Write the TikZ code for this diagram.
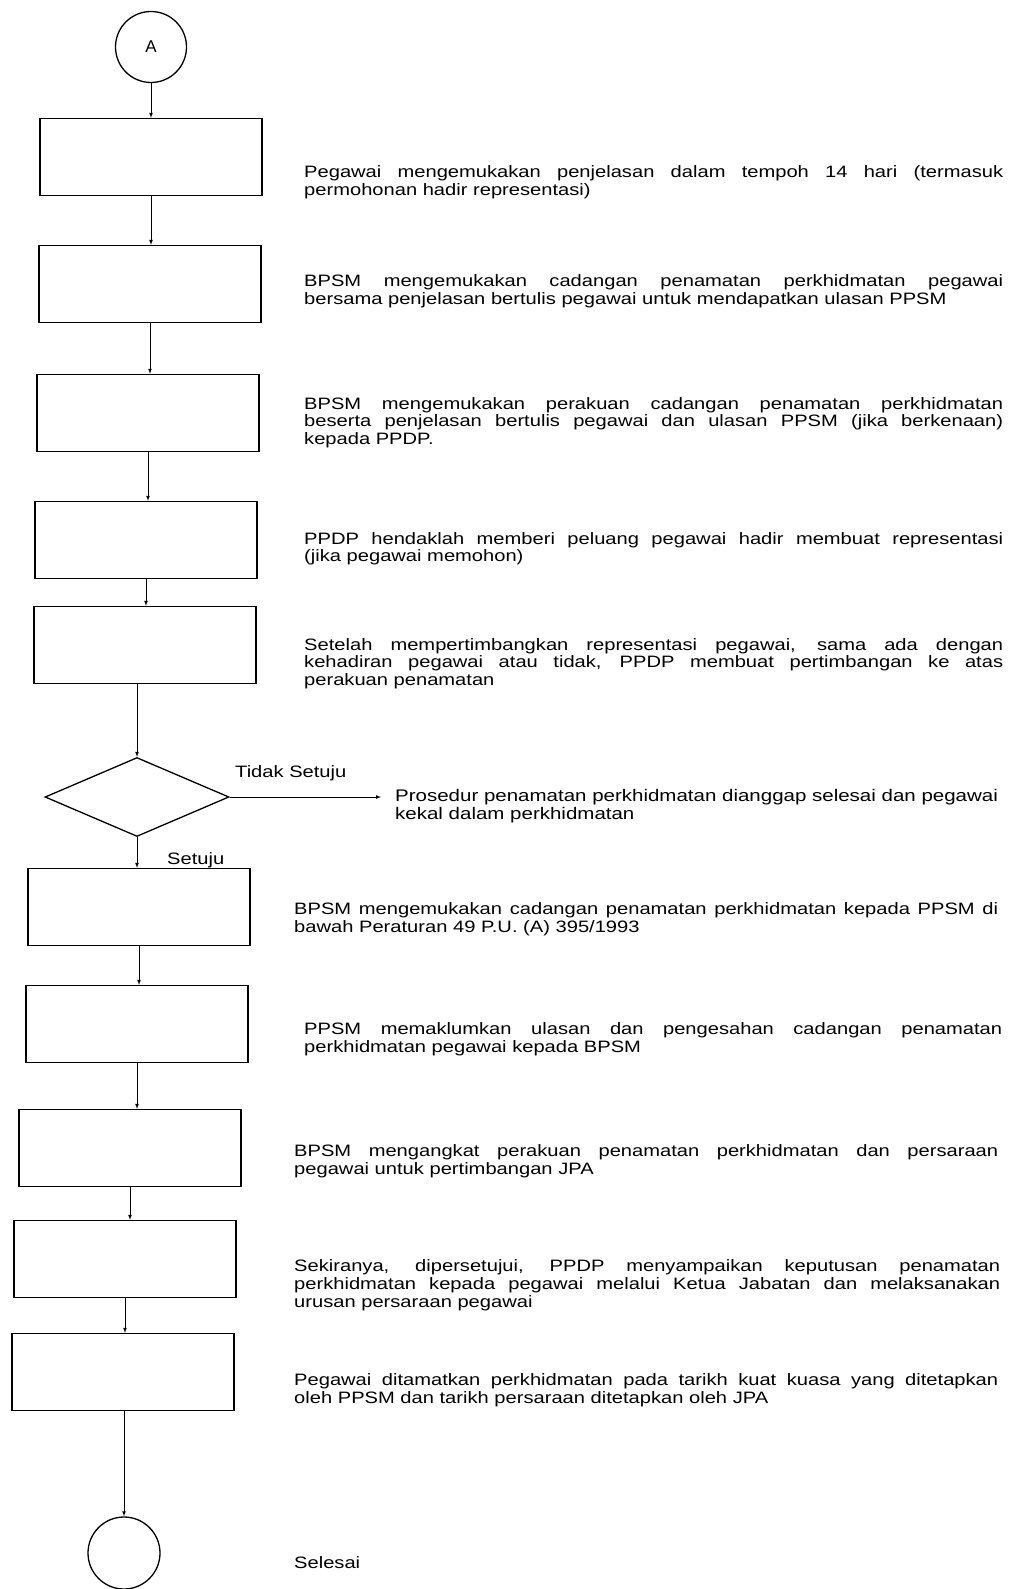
\documentclass[tikz,border=0pt]{standalone}
\usepackage{fontspec}
\setmainfont{Liberation Sans}
\newfontfamily\widefont[FakeStretch=1.22]{Liberation Sans}
\usetikzlibrary{shapes.geometric}
\tolerance=10000
\hbadness=10000
\tikzset{my arrow/.style={
  -latex,
  line width=0.7pt
  }
}
\tikzset{stepbox/.style={
  draw,
  line width=1.3pt,
  minimum width=222pt,
  minimum height=77pt,
  inner sep=0pt
  }
}
\tikzset{upper text/.style={
  anchor=base west,
  inner sep=0pt,
  text width=699pt,
  align=justify,
  font=\widefont\fontsize{16.5}{17.5}\selectfont
  }
}
\tikzset{lower text/.style={
  anchor=base west,
  inner sep=0pt,
  text width=706pt,
  align=justify,
  font=\widefont\fontsize{16.5}{18}\selectfont
  }
}

\begin{document}
\begin{tikzpicture}[x=1pt,y=-1pt]
    \useasboundingbox (0,0) rectangle (1018,1589);

    \node[draw,circle,line width=1.3pt,minimum size=71pt,inner sep=0pt,font=\fontsize{17}{18}\selectfont] (start) at (151,47) {A};

    \foreach \x/\y [count=\n] in {151/157,150/284,148/413,146/540,145/645,139/907,137/1024,130/1148,125/1259,123/1372}
        \node[stepbox] (b\n) at (\x,\y) {};

    \node[draw,diamond,line width=1.3pt,minimum width=184pt,minimum height=79pt,inner sep=0pt] (dec) at (137,797) {};
    \node[draw,circle,line width=1.3pt,minimum size=72pt,inner sep=0pt] (stop) at (124,1553) {};

    \draw[my arrow] (start.south) -- (start.south |- b1.north);
    \foreach \n/\m in {1/2,2/3,3/4,4/5,6/7,7/8,8/9,9/10}
        \draw[my arrow] (b\n.south) -- (b\n.south |- b\m.north);
    \draw[my arrow] (dec.north |- b5.south) -- (dec.north);
    \draw[my arrow] (dec.south) -- (dec.south |- b6.north);
    \draw[my arrow] (stop.north |- b10.south) -- (stop.north);

    \coordinate (no) at (381,797);
    \draw[my arrow] (dec.east) -- (no);
    \node[lower text,text width=120pt] (tidak) at (235,777) {Tidak Setuju};
    \node[lower text,text width=80pt] (setuju) at (167,864) {Setuju};

    \foreach \y/\t in {
        178/{Pegawai mengemukakan penjelasan dalam tempoh 14 hari (termasuk\linebreak permohonan hadir representasi)},
        287/{BPSM mengemukakan cadangan penamatan perkhidmatan pegawai\linebreak bersama penjelasan bertulis pegawai untuk mendapatkan ulasan PPSM},
        409/{BPSM mengemukakan perakuan cadangan penamatan perkhidmatan\linebreak beserta penjelasan bertulis pegawai dan ulasan PPSM (jika berkenaan)\linebreak kepada PPDP.},
        544/{PPDP hendaklah memberi peluang pegawai hadir membuat representasi\linebreak (jika pegawai memohon)},
        650/{Setelah mempertimbangkan representasi pegawai, sama ada dengan\linebreak kehadiran pegawai atau tidak, PPDP membuat pertimbangan ke atas\linebreak perakuan penamatan}}
        \node[upper text] at (304,\y) {\t};

    \node[lower text,text width=640pt,font=\widefont\fontsize{16.8}{18}\selectfont] (prosedur) at (395,801) {Prosedur penamatan perkhidmatan dianggap selesai dan pegawai\\ kekal dalam perkhidmatan};

    \foreach \x/\y/\w/\t in {
        294/914/704/{BPSM mengemukakan cadangan penamatan perkhidmatan kepada PPSM di\linebreak bawah Peraturan 49 P.U. (A) 395/1993},
        304/1034/698/{PPSM memaklumkan ulasan dan pengesahan cadangan penamatan\linebreak perkhidmatan pegawai kepada BPSM},
        294/1156/704/{BPSM mengangkat perakuan penamatan perkhidmatan dan persaraan\linebreak pegawai untuk pertimbangan JPA},
        294/1271/706/{Sekiranya, dipersetujui, PPDP menyampaikan keputusan penamatan\linebreak perkhidmatan kepada pegawai melalui Ketua Jabatan dan melaksanakan\linebreak urusan persaraan pegawai},
        294/1385/704/{Pegawai ditamatkan perkhidmatan pada tarikh kuat kuasa yang ditetapkan\linebreak oleh PPSM dan tarikh persaraan ditetapkan oleh JPA},
        294/1568/200/{Selesai}}
        \node[lower text,text width=\w pt] at (\x,\y) {\t};
\end{tikzpicture}
\end{document}
